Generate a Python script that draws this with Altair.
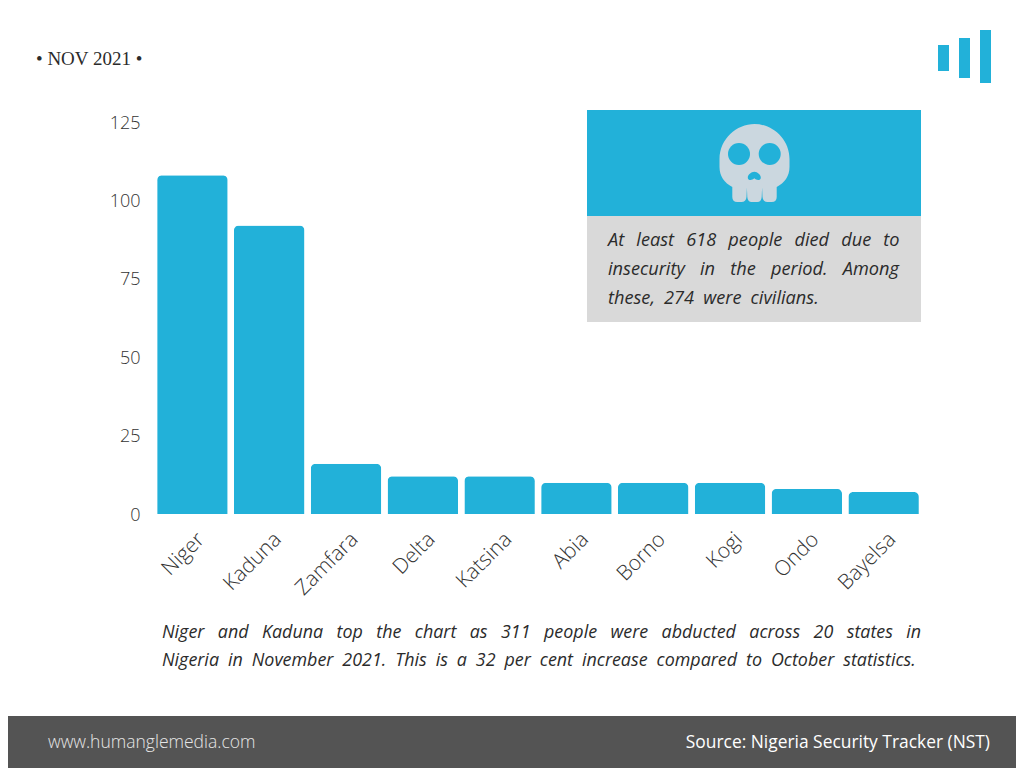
import altair as alt
import pandas as pd

states = ["Niger", "Kaduna", "Zamfara", "Delta", "Katsina", "Abia", "Borno", "Kogi", "Ondo", "Bayelsa"]
abducted = [108, 92, 16, 12, 12, 10, 10, 10, 8, 7]
y_ticks = [0, 25, 50, 75, 100, 125]
EN = "\u2002"
panel_lines = [
    "At least 618 people died due to".replace(" ", EN + "\u2009"),
    "insecurity in the period. Among".replace(" ", EN + "\u2004"),
    "these, 274 were civilians.".replace(" ", EN),
]
note_lines = [
    "Niger and Kaduna top the chart as 311 people were abducted across 20 states in".replace(" ", EN + "\u2005"),
    "Nigeria in November 2021. This is a 32 per cent increase compared to October statistics.".replace(" ", EN),
]
period = "• NOV 2021 •"
site = "www.humanglemedia.com"
source = "Source: Nigeria Security Tracker (NST)"

BLUE = "#22B1D9"
GREY = "#D9D9D9"
DARK = "#545454"
BONE = "#CBD7DF"
ORIGIN_X, ORIGIN_Y = 154, 122
one = pd.DataFrame({"a": [0]})


def px(v):
    return alt.value(v - ORIGIN_X)


def py(v):
    return alt.value(v - ORIGIN_Y)


def box(x0, x1, y0, y1, color):
    return alt.Chart(one).mark_rect(color=color, clip=False).encode(x=px(x0), x2=px(x1), y=py(y0), y2=py(y1))


def label(txt, x, y, **kw):
    return alt.Chart(pd.DataFrame({"t": [txt]})).mark_text(baseline="middle", clip=False, **kw).encode(
        x=px(x), y=py(y), text="t:N"
    )


def glyph(shape, x, y, size, color):
    return alt.Chart(one).mark_point(shape=shape, size=size, filled=True, opacity=1, color=color, clip=False).encode(
        x=px(x), y=py(y)
    )


SKULL = (
    "M-0.875,-0.1 C-0.875,-0.6 -0.45,-0.975 0,-0.975 C0.45,-0.975 0.875,-0.6 0.875,-0.1 L0.875,0.1 "
    "C0.875,0.33 0.75,0.5 0.555,0.6 L0.555,0.85 Q0.555,0.975 0.43,0.975 L0.33,0.975 Q0.21,0.975 0.2,0.85 L0.19,0.62 L0.18,0.85 "
    "Q0.17,0.975 0.07,0.975 L-0.07,0.975 Q-0.17,0.975 -0.18,0.85 L-0.19,0.62 L-0.2,0.85 Q-0.21,0.975 -0.33,0.975 L-0.43,0.975 "
    "Q-0.555,0.975 -0.555,0.85 L-0.555,0.6 C-0.75,0.5 -0.875,0.33 -0.875,0.1 Z"
)
NOSE = "M0,-0.8 C0.5,-0.8 1,-0.3 1,0.1 C1,0.5 0.4,0.6 0,0.2 C-0.4,0.6 -1,0.5 -1,0.1 C-1,-0.3 -0.5,-0.8 0,-0.8 Z"

df = pd.DataFrame({"state": states, "abducted": abducted})
bars = alt.Chart(df).mark_bar(
    color=BLUE, cornerRadiusTopLeft=5, cornerRadiusTopRight=5, width=70.5
).encode(
    x=alt.X(
        "state:N",
        sort=states,
        title=None,
        scale=alt.Scale(paddingInner=0.08, paddingOuter=0.04),
        axis=alt.Axis(
            labelAngle=-45, labelFont="Open Sans", labelFontSize=21, labelFontWeight=300, labelColor="#333333",
            domain=False, ticks=False, labelPadding=22, labelOffset=9, labelOverlap=False, labelAlign="right",
            labelBaseline="middle",
        ),
    ),
    y=alt.Y(
        "abducted:Q",
        title=None,
        scale=alt.Scale(domain=[0, 125], nice=False),
        axis=alt.Axis(
            values=y_ticks, labelFont="Open Sans", labelFontSize=18, labelFontWeight=300, labelColor="#333333",
            domain=False, ticks=False, grid=False, labelPadding=14, labelOffset=1,
        ),
    ),
)

note = dict(font="Open Sans", fontStyle="italic", fontSize=17.9, color="#2b2b2b", align="left")
panel = dict(font="Open Sans", fontStyle="italic", fontSize=18.2, color="#2b2b2b", align="left")
layers = [
    bars,
    box(587, 921, 110, 216, BLUE),
    box(587, 921, 216, 322, GREY),
    glyph(SKULL, 754.5, 163, 6400, BONE),
    glyph("circle", 739, 154, 484, BLUE),
    glyph("circle", 769.7, 154, 484, BLUE),
    glyph(NOSE, 754.3, 177, 169, BLUE),
    box(938, 949, 45, 71, BLUE),
    box(959, 970, 38, 78, BLUE),
    box(980, 991, 30, 83, BLUE),
    label(panel_lines[0], 608, 241, **panel),
    label(panel_lines[1], 608, 270, **panel),
    label(panel_lines[2], 608, 299, **panel),
    label(note_lines[0], 162, 633, **note),
    label(note_lines[1], 162, 661, **note),
    label(period, 36, 59, font="Liberation Serif", fontSize=19, color="#2b2b2b", align="left"),
    box(0, 1024, 716, 768, DARK),
    label(site, 48, 743, font="Open Sans", fontSize=17.5, fontWeight=300, color="#E6E6E6", align="left"),
    label(source, 990, 743, font="Open Sans", fontSize=17.4, color="#FFFFFF", align="right"),
]

chart = alt.layer(*layers).properties(
    width=768,
    height=392,
    padding={"left": 146, "top": 114, "right": 94, "bottom": 254},
    autosize=alt.AutoSizeParams(type="none"),
).configure_view(stroke=None)

chart.save("out.html", embed_options={"renderer": "svg", "actions": False})
